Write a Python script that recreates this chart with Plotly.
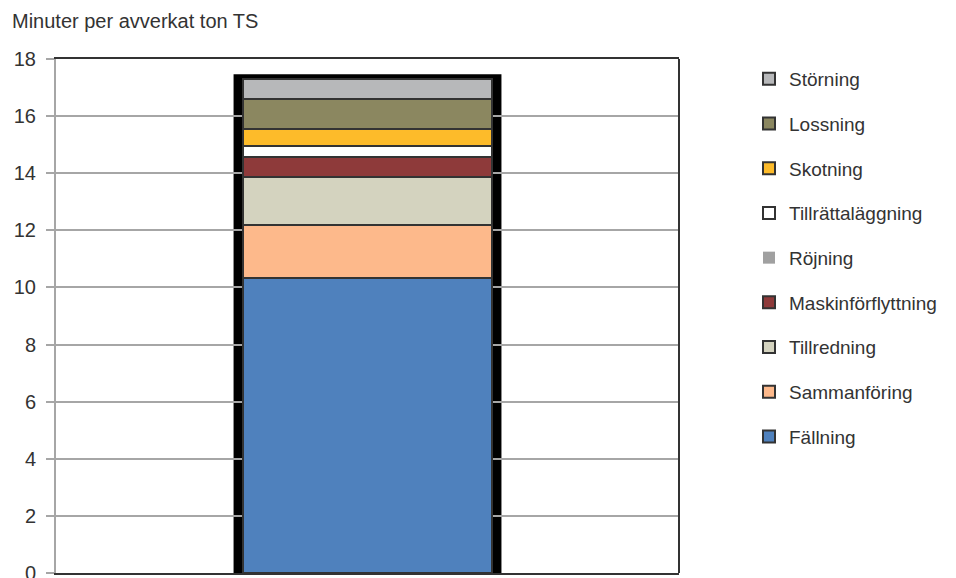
import plotly.graph_objects as go

categories = [""]
series_names = ["Fällning", "Sammanföring", "Tillredning", "Maskinförflyttning",
                "Röjning", "Tillrättaläggning", "Skotning", "Lossning", "Störning"]
fallning = [10.33]
sammanforing = [1.86]
tillredning = [1.68]
maskinforflyttning = [0.70]
rojning = [0.01]
tillrattalaggning = [0.38]
skotning = [0.60]
lossning = [1.03]
storning = [0.70]
y_ticks = [0, 2, 4, 6, 8, 10, 12, 14, 16, 18]

series_values = [fallning, sammanforing, tillredning, maskinforflyttning, rojning,
                 tillrattalaggning, skotning, lossning, storning]
colors = ["#4f81bd", "#fdb98b", "#d4d3bf", "#8e3a3a", "#a0a0a0",
          "#ffffff", "#fdbb2a", "#8b8760", "#b7b8ba"]

FONT = "Liberation Sans, Arial, sans-serif"
W, H = 956, 586
fig = go.Figure()
n = len(series_names)
for i, (name, vals, col) in enumerate(zip(series_names, series_values, colors)):
    lw = 0 if name == "Röjning" else 2
    fig.add_trace(go.Bar(
        x=categories, y=vals, name=name, legendgroup=name, legendrank=n - i,
        marker=dict(color=col, line=dict(color="#333333", width=lw)),
        width=0.4,
    ))

total = sum(v[0] for v in series_values)
# black frame behind the stacked bar
fig.add_shape(type="rect", xref="x", yref="y", x0=-0.215, x1=0.215,
              y0=0, y1=total + 0.18, fillcolor="black", line=dict(width=0),
              layer="below")
# right border of plot area
fig.add_shape(type="line", xref="paper", yref="paper", x0=1, x1=1, y0=0, y1=1,
              line=dict(color="#333333", width=2))

fig.update_layout(
    width=W, height=H,
    barmode="stack",
    paper_bgcolor="white", plot_bgcolor="white",
    margin=dict(l=56, r=277, t=59, b=13, autoexpand=False),
    font=dict(family=FONT, size=20, color="#333333"),
    title=dict(text="Minuter per avverkat ton TS", x=12 / W, xref="container",
               xanchor="left", y=1 - 21 / H, yref="container", yanchor="middle",
               font=dict(family=FONT, size=20, color="#333333")),
    showlegend=True,
    legend=dict(x=749 / W, xref="container", xanchor="left",
                y=1 - 60 / H, yref="container", yanchor="top",
                traceorder="grouped", tracegroupgap=17, maxheight=560,
                font=dict(family=FONT, size=19, color="#333333"),
                itemwidth=30, bgcolor="rgba(0,0,0,0)"),
    bargap=0.6,
)
fig.update_xaxes(showticklabels=False, showgrid=False, showline=True, mirror=True,
                 linecolor="#333333", linewidth=2, range=[-0.5, 0.5], ticks="",
                 automargin=False)
fig.update_yaxes(range=[0, 18], tickvals=y_ticks, showgrid=True, gridcolor="#a6a6a6",
                 gridwidth=2, showline=True, linecolor="#a6a6a6", linewidth=2,
                 ticks="outside", ticklen=8, tickcolor="#a6a6a6", tickwidth=2,
                 ticklabelstandoff=6, zeroline=False, automargin=False,
                 tickfont=dict(family=FONT, size=20, color="#333333"))

fig.write_html("out.html", config={"displayModeBar": False},
               post_script="document.body.style.margin='0';"
                           "document.body.style.overflow='hidden';")
